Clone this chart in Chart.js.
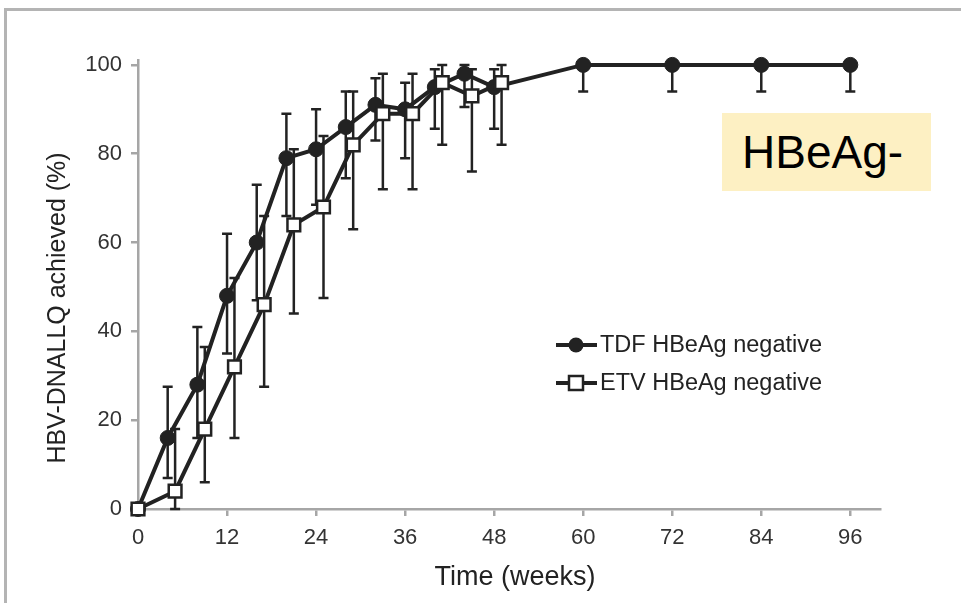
<!DOCTYPE html>
<html>
<head>
<meta charset="utf-8">
<script src="https://cdn.jsdelivr.net/npm/chart.js@4.4.1/dist/chart.umd.min.js"></script>
<style>
  html, body { margin: 0; padding: 0; background: #fff; }
  #wrap { position: relative; width: 961px; height: 603px; overflow: hidden; }
  #frame { position: absolute; left: 4px; top: 8px; width: 980px; height: 620px;
           border-top: 3px solid #b4b4b4; border-left: 3px solid #b4b4b4; }
  #tag { position: absolute; left: 722px; top: 113px; width: 209px; height: 78px;
         background: #fdf0c3; font: 46px "Liberation Sans", Arial, sans-serif; color: #000;
         line-height: 78px; text-indent: 20px; }
</style>
</head>
<body>
<div id="wrap">
  <div id="frame"></div>
  <canvas id="myChart" width="961" height="603"></canvas>
  <div id="tag">HBeAg-</div>
</div>
<script>
// weeks and % achieved
const tdfWeeks  = [0, 4, 8, 12, 16, 20, 24, 28, 32, 36, 40, 44, 48, 60, 72, 84, 96];
const tdfValues = [0, 16, 28, 48, 60, 79, 81, 86, 91, 90, 95, 98, 95, 100, 100, 100, 100];
const tdfLow    = [0, 7, 16, 35, 47, 66, 68.5, 74.5, 83, 79, 85.6, 90.5, 85.6, 94, 94, 94, 94];
const tdfHigh   = [0, 27.5, 41, 62, 73, 89, 90, 94, 97, 96, 99, 100, 99, 100, 100, 100, 100];

const etvWeeks  = [0, 5, 9, 13, 17, 21, 25, 29, 33, 37, 41, 45, 49];
const etvValues = [0, 4, 18, 32, 46, 64, 68, 82, 89, 89, 96, 93, 96];
const etvLow    = [0, 0, 6, 16, 27.5, 44, 47.5, 63, 72, 72, 82, 76, 82];
const etvHigh   = [0, 18, 36.5, 52, 66, 81, 84, 94, 98, 98, 100, 99, 100];

const xTicks = [0, 12, 24, 36, 48, 60, 72, 84, 96];
const yTicks = [0, 20, 40, 60, 80, 100];

const seriesNames = ['TDF HBeAg negative', 'ETV HBeAg negative'];
const xTitle = 'Time (weeks)';
const yTitle = 'HBV-DNALLQ achieved (%)';

const ink = '#222';
const axisGray = '#a6a6a6';
const font = '"Liberation Sans", Arial, sans-serif';

function points(xs, ys) {
  return xs.map((x, i) => ({ x: x, y: ys[i] }));
}

const errorBars = {
  id: 'errorBars',
  beforeDatasetsDraw(chart) {
    const ctx = chart.ctx;
    const xs = chart.scales.x, ys = chart.scales.y;
    ctx.save();
    ctx.strokeStyle = ink;
    ctx.lineWidth = 2.5;
    chart.data.datasets.forEach(ds => {
      ds.data.forEach((p, i) => {
        const lo = ds.low[i], hi = ds.high[i];
        if (lo === hi) return;
        const px = xs.getPixelForValue(p.x);
        const top = ys.getPixelForValue(hi), bot = ys.getPixelForValue(lo);
        ctx.beginPath();
        ctx.moveTo(px, top);
        ctx.lineTo(px, bot);
        if (hi > p.y) { ctx.moveTo(px - 5, top); ctx.lineTo(px + 5, top); }
        if (lo < p.y) { ctx.moveTo(px - 5, bot); ctx.lineTo(px + 5, bot); }
        ctx.stroke();
      });
    });
    ctx.restore();
  }
};

const textBits = {
  id: 'textBits',
  afterDraw(chart) {
    const ctx = chart.ctx;
    ctx.save();
    ctx.fillStyle = ink;
    ctx.textBaseline = 'middle';
    // axis titles
    ctx.font = '27px ' + font;
    ctx.textAlign = 'center';
    ctx.fillText(xTitle, 515, 578);
    ctx.translate(58, 308);
    ctx.rotate(-Math.PI / 2);
    ctx.font = '25px ' + font;
    ctx.fillText(yTitle, 0, 0);
    ctx.restore();

    // legend
    ctx.save();
    const rows = [345, 383];
    chart.data.datasets.forEach((ds, i) => {
      const y = rows[i];
      ctx.strokeStyle = ink;
      ctx.lineWidth = 4;
      ctx.beginPath();
      ctx.moveTo(556, y);
      ctx.lineTo(597, y);
      ctx.stroke();
      ctx.lineWidth = 2.5;
      if (ds.pointStyle === 'circle') {
        ctx.fillStyle = ink;
        ctx.beginPath();
        ctx.arc(576, y, 7.5, 0, Math.PI * 2);
        ctx.fill();
      } else {
        ctx.fillStyle = '#fff';
        ctx.fillRect(569, y - 7, 14, 14);
        ctx.strokeRect(569, y - 7, 14, 14);
      }
      ctx.fillStyle = ink;
      ctx.font = '23.5px ' + font;
      ctx.textAlign = 'left';
      ctx.textBaseline = 'middle';
      ctx.fillText(ds.label, 600, y + 1);
    });
    ctx.restore();
  }
};

new Chart('myChart', {
  type: 'line',
  data: {
    datasets: [{
      label: seriesNames[0],
      data: points(tdfWeeks, tdfValues),
      low: tdfLow,
      high: tdfHigh,
      order: 1,
      borderColor: ink,
      borderWidth: 4,
      pointStyle: 'circle',
      pointRadius: 7.5,
      pointBorderWidth: 1,
      pointBackgroundColor: ink,
      pointBorderColor: ink,
      clip: false,
      fill: false
    }, {
      label: seriesNames[1],
      data: points(etvWeeks, etvValues),
      low: etvLow,
      high: etvHigh,
      order: 0,
      borderColor: ink,
      borderWidth: 4,
      pointStyle: 'rect',
      pointRadius: 9,
      pointBorderWidth: 2.5,
      pointBackgroundColor: '#fff',
      pointBorderColor: ink,
      clip: false,
      fill: false
    }]
  },
  options: {
    responsive: false,
    animation: false,
    layout: { padding: { left: 0, right: 81, top: 60, bottom: 0 } },
    plugins: {
      legend: { display: false },
      tooltip: { enabled: false }
    },
    scales: {
      x: {
        type: 'linear',
        min: 0,
        max: 100,
        afterFit(s) { s.height = 94; },
        afterBuildTicks(s) { s.ticks = xTicks.map(v => ({ value: v })); },
        grid: { drawOnChartArea: false, drawTicks: true, tickLength: 7, color: axisGray, lineWidth: 2.5 },
        border: { display: true, color: axisGray, width: 2.5 },
        ticks: { padding: 9, color: '#333', font: { family: font, size: 22 }, maxRotation: 0 }
      },
      y: {
        min: 0,
        max: 101.1,
        afterFit(s) { s.width = 138; },
        afterBuildTicks(s) { s.ticks = yTicks.map(v => ({ value: v })); },
        grid: { drawOnChartArea: false, drawTicks: true, tickLength: 7, color: axisGray, lineWidth: 2.5 },
        border: { display: true, color: axisGray, width: 2.5 },
        ticks: { padding: 9, color: '#333', font: { family: font, size: 22 } }
      }
    }
  },
  plugins: [errorBars, textBits]
});
</script>
</body>
</html>
